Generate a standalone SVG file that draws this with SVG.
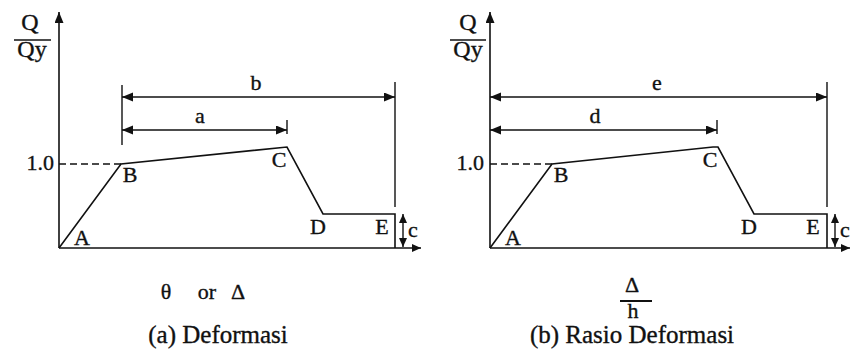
<svg xmlns="http://www.w3.org/2000/svg" width="851" height="358" viewBox="0 0 851 358">
<style>
.ln{stroke:#111;stroke-width:1.6;fill:none}
.dim{stroke:#111;stroke-width:1.4;fill:none}
.t{font-family:"Liberation Serif","Times New Roman",serif;fill:#111;stroke:#111;stroke-width:0.35}
.lab{font-size:22px}
.q{font-size:24px;text-anchor:middle}
.cap{font-size:25px;text-anchor:middle}
</style>
<defs>
<marker id="ah" markerWidth="12" markerHeight="10" refX="11" refY="4.5" orient="auto-start-reverse" markerUnits="userSpaceOnUse"><path d="M0,0 L11,4.5 L0,9 z" fill="#111"/></marker>
<marker id="as" markerWidth="10" markerHeight="9" refX="9" refY="4" orient="auto-start-reverse" markerUnits="userSpaceOnUse"><path d="M0,0 L9,4 L0,8 z" fill="#111"/></marker>
</defs>

<g id="chart-a">
  <g id="axes-a">
    <line class="ln" x1="59" y1="248" x2="59" y2="12" marker-end="url(#ah)"/>
    <line class="ln" x1="59" y1="248" x2="421" y2="248" marker-end="url(#as)"/>
  </g>
  <g id="curve-a">
    <polyline class="ln" points="59,248 121,164 287,147 323,214 395,214 395,248"/>
    <line class="ln" x1="59" y1="164" x2="121" y2="164" stroke-dasharray="7,4"/>
  </g>
  <g id="labels-a">
    <text class="t q" x="30" y="30">Q</text>
    <line class="ln" x1="14" y1="40" x2="51" y2="40"/>
    <text class="t q" x="32" y="57">Qy</text>
    <text class="t lab" x="54" y="170" text-anchor="end" font-size="23">1.0</text>
    <text class="t lab" x="82" y="245" text-anchor="middle">A</text>
    <text class="t lab" x="130" y="182" text-anchor="middle">B</text>
    <text class="t lab" x="279" y="167" text-anchor="middle">C</text>
    <text class="t lab" x="318" y="234" text-anchor="middle">D</text>
    <text class="t lab" x="382" y="234" text-anchor="middle">E</text>
    <text class="t lab" x="256" y="90" text-anchor="middle">b</text>
    <text class="t lab" x="200" y="123" text-anchor="middle">a</text>
    <text class="t lab" x="408" y="237">c</text>
    <text class="t" font-size="22" x="166" y="299" text-anchor="middle">θ</text>
    <text class="t" font-size="22" x="207" y="299" text-anchor="middle">or</text>
    <text class="t" font-size="22" x="238" y="299" text-anchor="middle">Δ</text>
    <text class="t cap" x="218" y="343">(a) Deformasi</text>
  </g>
</g>

<g id="chart-b">
  <g id="axes-b">
    <line class="ln" x1="490" y1="248" x2="490" y2="12" marker-end="url(#ah)"/>
    <line class="ln" x1="490" y1="248" x2="850" y2="248" marker-end="url(#as)"/>
  </g>
  <g id="curve-b">
    <polyline class="ln" points="490,248 552,164 713,147 718,147 754,214 827,214 827,248"/>
    <line class="ln" x1="490" y1="164" x2="552" y2="164" stroke-dasharray="7,4"/>
  </g>
  <g id="labels-b">
    <text class="t q" x="468" y="30">Q</text>
    <line class="ln" x1="450" y1="40" x2="486" y2="40"/>
    <text class="t q" x="468" y="57">Qy</text>
    <text class="t lab" x="484" y="170" text-anchor="end" font-size="23">1.0</text>
    <text class="t lab" x="513" y="245" text-anchor="middle">A</text>
    <text class="t lab" x="561" y="182" text-anchor="middle">B</text>
    <text class="t lab" x="710" y="167" text-anchor="middle">C</text>
    <text class="t lab" x="749" y="234" text-anchor="middle">D</text>
    <text class="t lab" x="813" y="234" text-anchor="middle">E</text>
    <text class="t lab" x="657" y="90" text-anchor="middle">e</text>
    <text class="t lab" x="595" y="123" text-anchor="middle">d</text>
    <text class="t lab" x="840" y="237">c</text>
    <text class="t" font-size="22" x="632" y="292" text-anchor="middle">Δ</text>
    <line x1="620" y1="301" x2="652" y2="301" stroke="#111" stroke-width="2"/>
    <text class="t" font-size="22" x="633" y="318" text-anchor="middle">h</text>
    <text class="t cap" x="632" y="343">(b) Rasio Deformasi</text>
  </g>
</g>

<g id="connectors">
  <line class="dim" x1="122" y1="85" x2="122" y2="145"/>
  <line class="dim" x1="395" y1="82" x2="395" y2="207"/>
  <line class="dim" x1="122" y1="97" x2="395" y2="97" marker-start="url(#ah)" marker-end="url(#ah)"/>
  <line class="dim" x1="287" y1="120" x2="287" y2="134"/>
  <line class="dim" x1="122" y1="130" x2="287" y2="130" marker-start="url(#ah)" marker-end="url(#ah)"/>
  <line class="dim" x1="403" y1="214" x2="403" y2="247" marker-start="url(#as)" marker-end="url(#as)"/>

  <line class="dim" x1="827" y1="82" x2="827" y2="207"/>
  <line class="dim" x1="490" y1="97" x2="827" y2="97" marker-start="url(#ah)" marker-end="url(#ah)"/>
  <line class="dim" x1="717" y1="120" x2="717" y2="134"/>
  <line class="dim" x1="490" y1="130" x2="717" y2="130" marker-start="url(#ah)" marker-end="url(#ah)"/>
  <line class="dim" x1="835" y1="214" x2="835" y2="247" marker-start="url(#as)" marker-end="url(#as)"/>
</g>
</svg>
